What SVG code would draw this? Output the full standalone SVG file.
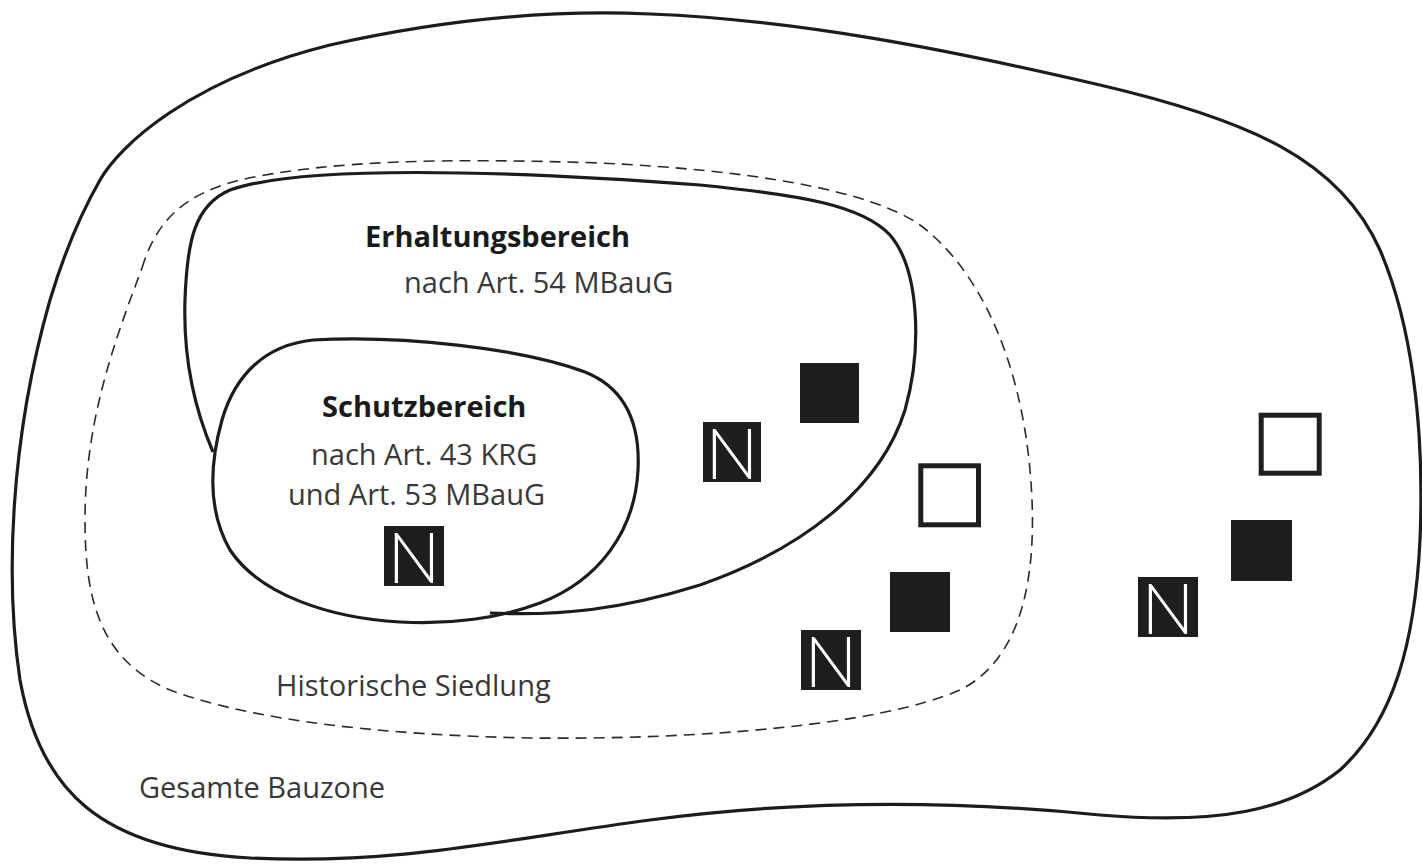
<svg xmlns="http://www.w3.org/2000/svg" width="1422" height="865" viewBox="0 0 1422 865">
<style>
.line{fill:none;stroke:#1c1c1c;stroke-width:3.2;stroke-linejoin:round}
.dash{fill:none;stroke:#2a2a2a;stroke-width:1.6;stroke-dasharray:11 7}
.lbl{font-family:"Open Sans","Liberation Sans",sans-serif;font-size:29px;fill:#383838}
.bold{font-family:"Open Sans","Liberation Sans",sans-serif;font-size:29px;font-weight:bold;fill:#1a1a1a}
.fill{fill:#1e1e1e}
.open{fill:#ffffff;stroke:#1e1e1e;stroke-width:5}
.n{font-family:"Lato","DejaVu Sans",sans-serif;font-weight:300;font-size:70px;fill:#ffffff;text-anchor:middle}
</style>
<rect width="1422" height="865" fill="#ffffff"/>
<g id="gesamte-bauzone">
<path class="line" d="M100,180 C120,145 190,80 330,45 C450,18 560,10 650,14 C800,20 950,50 1100,85 C1250,120 1340,160 1380,250 C1410,320 1425,420 1420,540 C1415,640 1395,720 1340,770 C1290,810 1220,825 1100,815 C950,800 800,800 650,820 C500,840 400,865 250,858 C100,850 40,790 20,680 C5,580 10,440 50,300 C65,250 80,215 100,180 Z"/>
<text class="lbl" x="139" y="798">Gesamte Bauzone</text>
</g>
<g id="historische-siedlung">
<path class="dash" d="M142,268 C155,225 180,195 240,180 C330,160 450,158 600,163 C750,170 870,190 920,225 C980,270 1020,360 1030,470 C1040,580 1020,660 960,690 C880,725 700,740 530,738 C380,735 250,720 170,690 C100,660 85,600 85,520 C85,420 115,340 142,268 Z"/>
<text class="lbl" x="276" y="696">Historische Siedlung</text>
</g>
<g id="erhaltungsbereich">
<path class="line" d="M213,452 C195,410 183,360 185,300 C187,240 195,205 230,190 C300,165 500,170 700,185 C800,195 862,205 890,235 C920,270 922,350 905,410 C880,490 800,550 700,585 C620,610 560,616 490,613"/>
<text class="bold" x="365" y="247">Erhaltungsbereich</text>
<text class="lbl" x="404" y="293">nach Art. 54 MBauG</text>
</g>
<g id="schutzbereich">
<path class="line" d="M313,340 C400,335 520,348 585,372 C630,390 640,430 638,470 C635,530 600,580 540,603 C500,618 450,625 400,622 C330,618 260,595 230,550 C210,515 208,470 222,420 C235,375 265,345 313,340 Z"/>
<text class="bold" x="322" y="417">Schutzbereich</text>
<text class="lbl" x="311" y="465">nach Art. 43 KRG</text>
<text class="lbl" x="288" y="505">und Art. 53 MBauG</text>
</g>
<g id="n-icon-1"><rect class="fill" x="384" y="526" width="60" height="60"/><text class="n" x="414" y="583">N</text></g>
<g id="n-icon-2"><rect class="fill" x="703" y="422" width="58" height="60"/><text class="n" x="732" y="479">N</text></g>
<g id="n-icon-3"><rect class="fill" x="801" y="630" width="60" height="60"/><text class="n" x="831" y="687">N</text></g>
<g id="n-icon-4"><rect class="fill" x="1138" y="577" width="60" height="60"/><text class="n" x="1168" y="634">N</text></g>
<g id="filled-1"><rect class="fill" x="800" y="363" width="59" height="60"/></g>
<g id="filled-2"><rect class="fill" x="890" y="572" width="60" height="60"/></g>
<g id="filled-3"><rect class="fill" x="1231" y="520" width="61" height="61"/></g>
<g id="open-1"><rect class="open" x="920.8" y="465.8" width="57.7" height="59"/></g>
<g id="open-2"><rect class="open" x="1261.2" y="415.2" width="58" height="58"/></g>
</svg>
